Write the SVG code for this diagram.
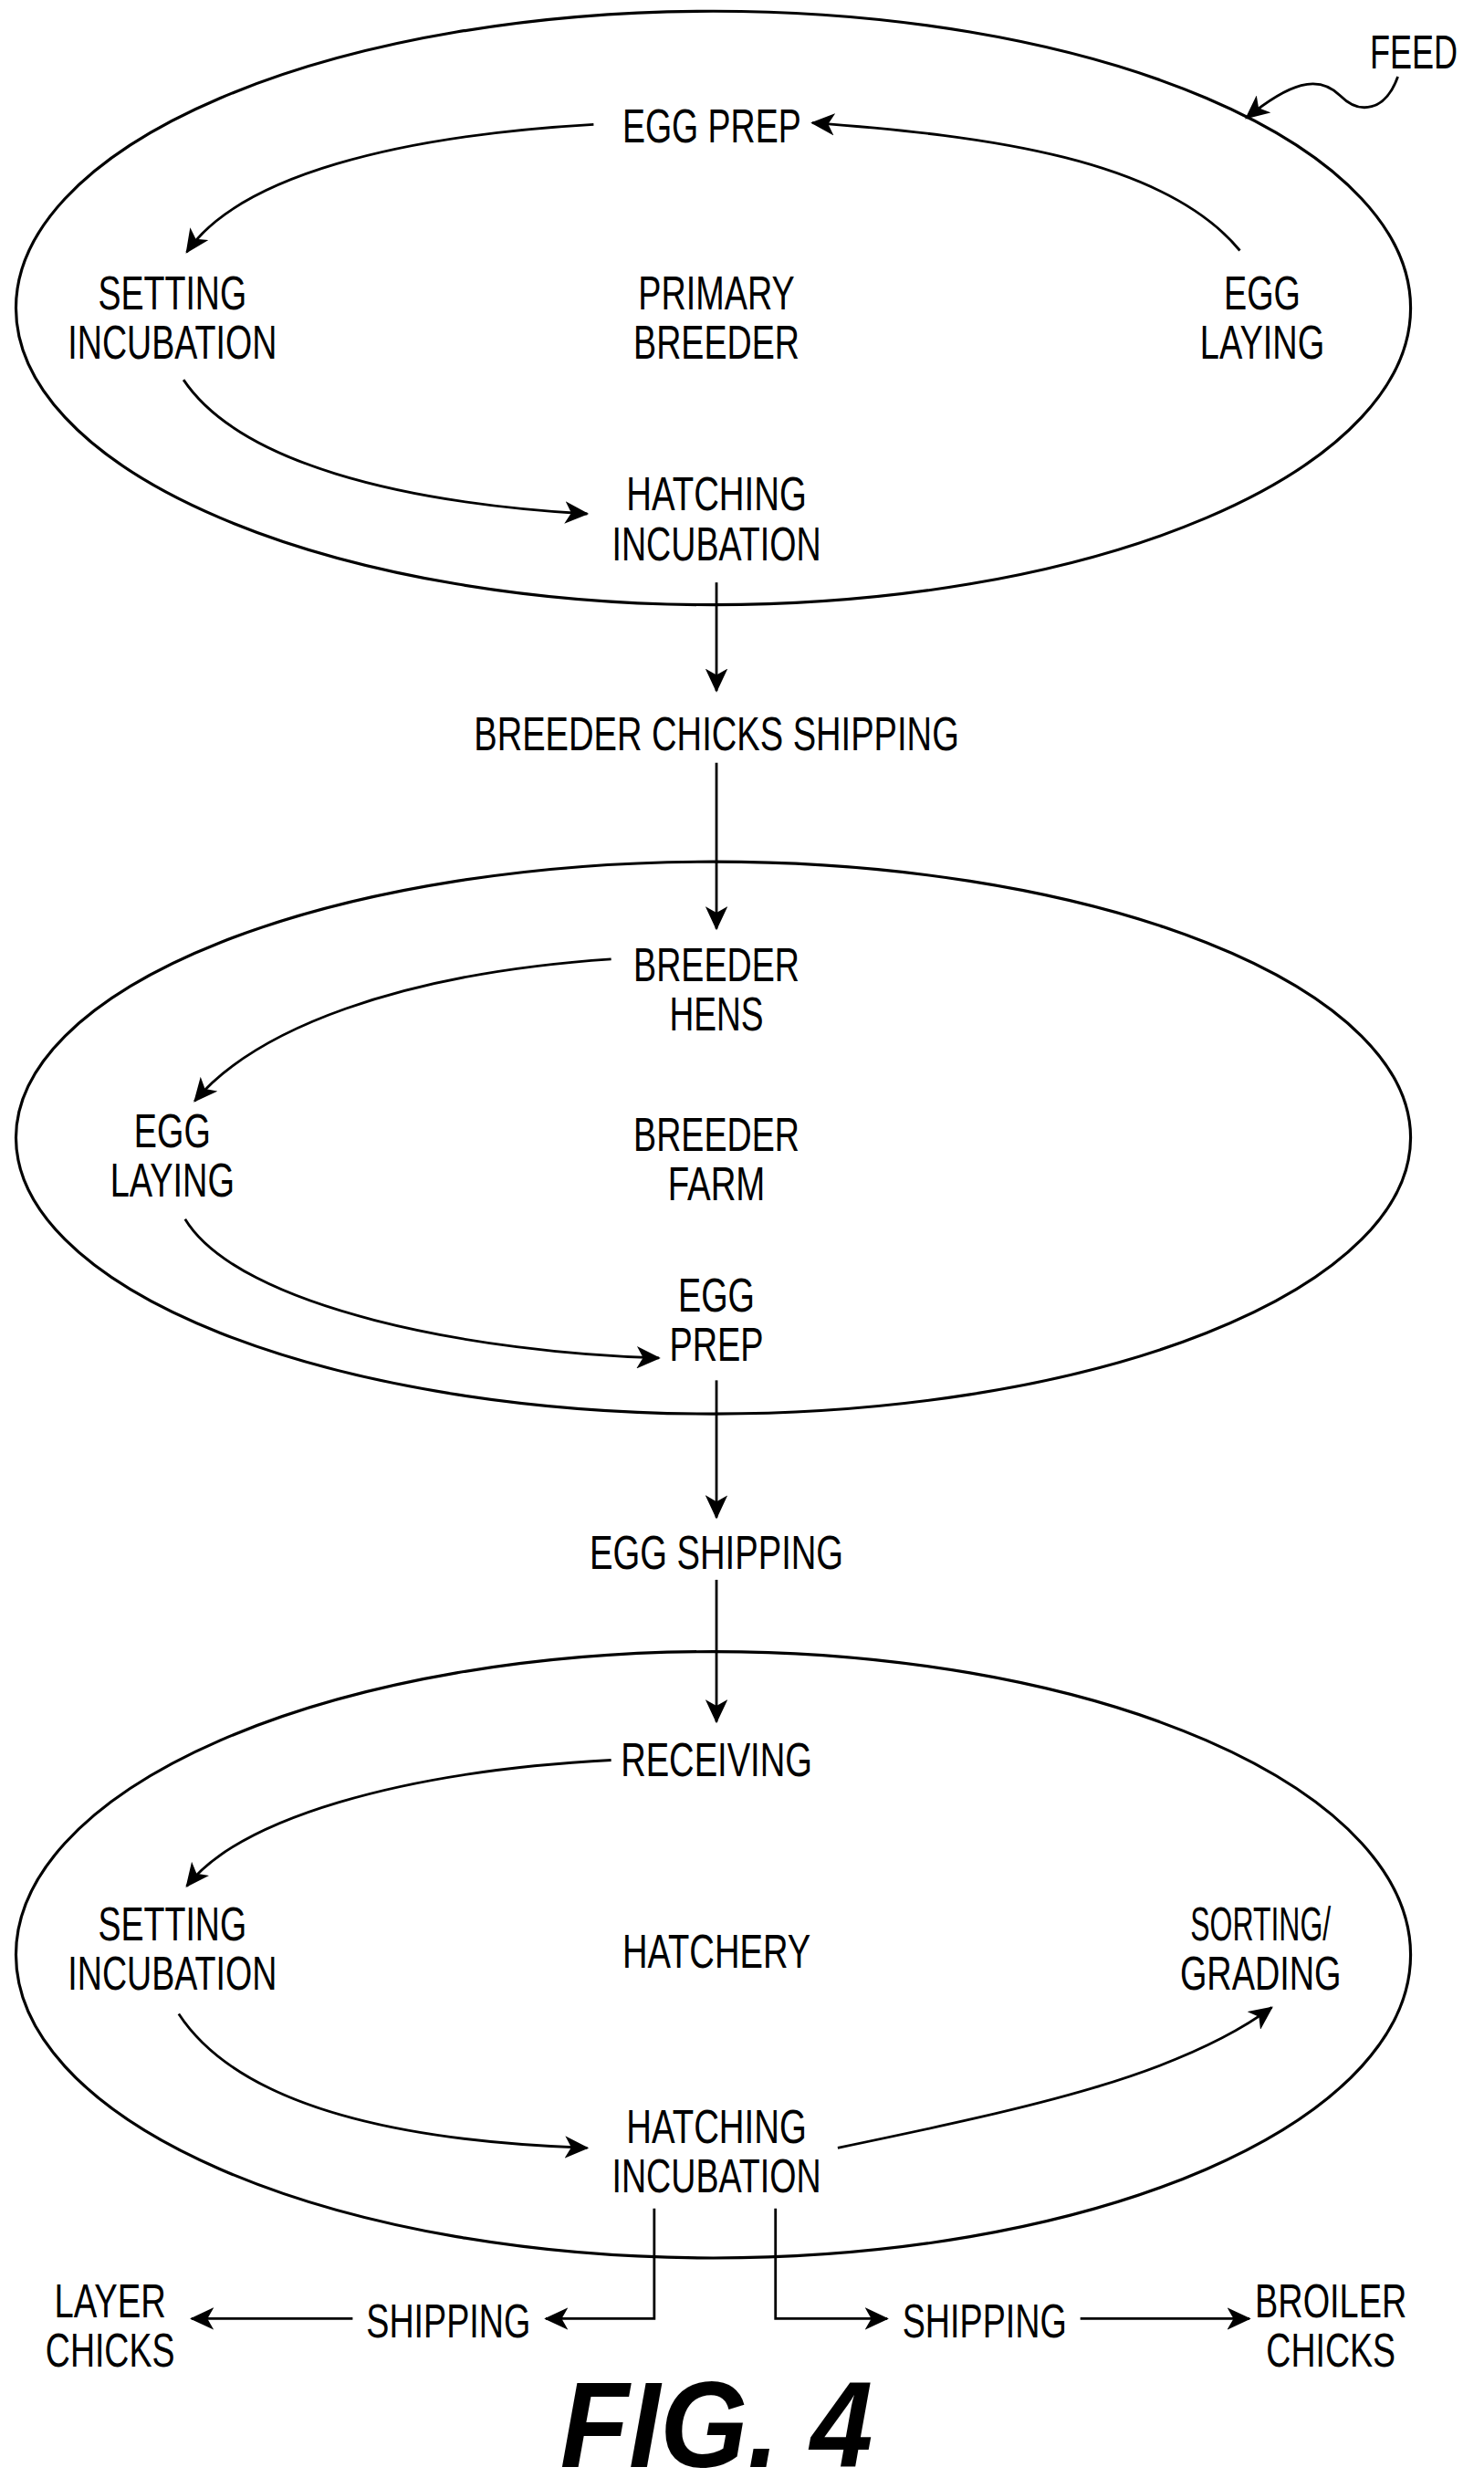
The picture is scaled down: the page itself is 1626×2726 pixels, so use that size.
<svg xmlns="http://www.w3.org/2000/svg" width="1626" height="2726" viewBox="0 0 1626 2726">
<style>
text{font-family:"Liberation Sans",Arial,sans-serif;font-size:30px;fill:#000;text-anchor:middle}
.fig{font-size:76px;font-weight:bold;font-style:italic}
.l{fill:none;stroke:#000;stroke-width:1.6}
.e{fill:none;stroke:#000;stroke-width:1.8}
</style>
<defs>
<marker id="a" markerUnits="userSpaceOnUse" markerWidth="16" markerHeight="14" refX="14" refY="7" orient="auto">
<path d="M0,0 L15,7 L0,14 L4,7 Z" fill="#000"/>
</marker>
</defs>
<rect width="1626" height="2726" fill="#fff"/>
<g transform="scale(1.7484)">
<g id="ellipses">
<ellipse id="primary" class="e" cx="447" cy="193" rx="437" ry="186"/>
<ellipse id="farm" class="e" cx="447" cy="713" rx="437" ry="173"/>
<ellipse id="hatchery" class="e" cx="447" cy="1225" rx="437" ry="190"/>
</g>
<g id="connectors" class="l">
<path class="l" d="M876,48 C868,70 852,72 840,60 C826,46 808,52 781,74" marker-end="url(#a)"/>
<path class="l" d="M777,157 C730,100 620,85 509,77" marker-end="url(#a)"/>
<path class="l" d="M372,78 C250,85 150,110 117,158" marker-end="url(#a)"/>
<path class="l" d="M115,238 C150,290 250,315 368,322" marker-end="url(#a)"/>
<path class="l" d="M449,365 L449,433" marker-end="url(#a)"/>
<path class="l" d="M449,478 L449,582" marker-end="url(#a)"/>
<path class="l" d="M383,601 C250,610 160,645 122,690" marker-end="url(#a)"/>
<path class="l" d="M116,764 C150,820 300,848 413,851" marker-end="url(#a)"/>
<path class="l" d="M449,865 L449,951" marker-end="url(#a)"/>
<path class="l" d="M449,990 L449,1079" marker-end="url(#a)"/>
<path class="l" d="M383,1103 C250,1110 150,1140 117,1182" marker-end="url(#a)"/>
<path class="l" d="M112,1262 C150,1320 250,1342 368,1346" marker-end="url(#a)"/>
<path class="l" d="M525,1346 C650,1320 740,1300 797,1258" marker-end="url(#a)"/>
<path class="l" d="M410,1384 L410,1453 L342,1453" marker-end="url(#a)"/>
<path class="l" d="M486,1384 L486,1453 L556,1453" marker-end="url(#a)"/>
<path class="l" d="M221,1453 L120,1453" marker-end="url(#a)"/>
<path class="l" d="M677,1453 L783,1453" marker-end="url(#a)"/>
</g>
<g id="feed"><text x="886" y="43" textLength="55" lengthAdjust="spacingAndGlyphs">FEED</text></g>
<g id="egg-prep-1"><text x="446" y="89" textLength="112" lengthAdjust="spacingAndGlyphs">EGG PREP</text></g>
<g id="setting-1"><text x="108" y="194" textLength="93" lengthAdjust="spacingAndGlyphs">SETTING</text><text x="108" y="225" textLength="131" lengthAdjust="spacingAndGlyphs">INCUBATION</text></g>
<g id="primary-breeder"><text x="449" y="194" textLength="98" lengthAdjust="spacingAndGlyphs">PRIMARY</text><text x="449" y="225" textLength="104" lengthAdjust="spacingAndGlyphs">BREEDER</text></g>
<g id="egg-laying-1"><text x="791" y="194" textLength="48" lengthAdjust="spacingAndGlyphs">EGG</text><text x="791" y="225" textLength="78" lengthAdjust="spacingAndGlyphs">LAYING</text></g>
<g id="hatching-1"><text x="449" y="320" textLength="113" lengthAdjust="spacingAndGlyphs">HATCHING</text><text x="449" y="351" textLength="131" lengthAdjust="spacingAndGlyphs">INCUBATION</text></g>
<g id="breeder-chicks-shipping"><text x="449" y="470" textLength="304" lengthAdjust="spacingAndGlyphs">BREEDER CHICKS SHIPPING</text></g>
<g id="breeder-hens"><text x="449" y="615" textLength="104" lengthAdjust="spacingAndGlyphs">BREEDER</text><text x="449" y="646" textLength="59" lengthAdjust="spacingAndGlyphs">HENS</text></g>
<g id="egg-laying-2"><text x="108" y="719" textLength="48" lengthAdjust="spacingAndGlyphs">EGG</text><text x="108" y="750" textLength="78" lengthAdjust="spacingAndGlyphs">LAYING</text></g>
<g id="breeder-farm"><text x="449" y="721" textLength="104" lengthAdjust="spacingAndGlyphs">BREEDER</text><text x="449" y="752" textLength="61" lengthAdjust="spacingAndGlyphs">FARM</text></g>
<g id="egg-prep-2"><text x="449" y="822" textLength="48" lengthAdjust="spacingAndGlyphs">EGG</text><text x="449" y="853" textLength="59" lengthAdjust="spacingAndGlyphs">PREP</text></g>
<g id="egg-shipping"><text x="449" y="983" textLength="159" lengthAdjust="spacingAndGlyphs">EGG SHIPPING</text></g>
<g id="receiving"><text x="449" y="1113" textLength="120" lengthAdjust="spacingAndGlyphs">RECEIVING</text></g>
<g id="setting-2"><text x="108" y="1216" textLength="93" lengthAdjust="spacingAndGlyphs">SETTING</text><text x="108" y="1247" textLength="131" lengthAdjust="spacingAndGlyphs">INCUBATION</text></g>
<g id="hatchery-label"><text x="449" y="1233" textLength="118" lengthAdjust="spacingAndGlyphs">HATCHERY</text></g>
<g id="sorting"><text x="790" y="1216" textLength="88" lengthAdjust="spacingAndGlyphs">SORTING/</text><text x="790" y="1247" textLength="101" lengthAdjust="spacingAndGlyphs">GRADING</text></g>
<g id="hatching-2"><text x="449" y="1343" textLength="113" lengthAdjust="spacingAndGlyphs">HATCHING</text><text x="449" y="1374" textLength="131" lengthAdjust="spacingAndGlyphs">INCUBATION</text></g>
<g id="shipping-left"><text x="281" y="1465" textLength="103" lengthAdjust="spacingAndGlyphs">SHIPPING</text></g>
<g id="shipping-right"><text x="617" y="1465" textLength="103" lengthAdjust="spacingAndGlyphs">SHIPPING</text></g>
<g id="layer-chicks"><text x="69" y="1452" textLength="70" lengthAdjust="spacingAndGlyphs">LAYER</text><text x="69" y="1483" textLength="81" lengthAdjust="spacingAndGlyphs">CHICKS</text></g>
<g id="broiler-chicks"><text x="834" y="1452" textLength="95" lengthAdjust="spacingAndGlyphs">BROILER</text><text x="834" y="1483" textLength="81" lengthAdjust="spacingAndGlyphs">CHICKS</text></g>
<g id="caption"><text class="fig" x="449" y="1546" textLength="196" lengthAdjust="spacingAndGlyphs">FIG. 4</text></g>
</g>
</svg>
